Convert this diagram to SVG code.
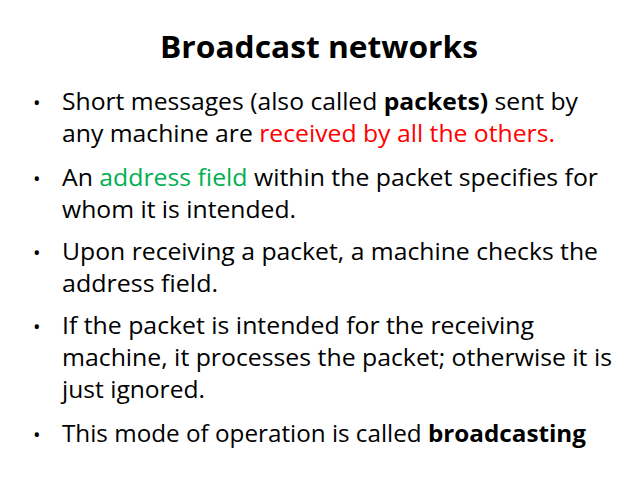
<svg xmlns="http://www.w3.org/2000/svg" width="638" height="478" viewBox="0 0 638 478">
<style>
text{font-family:"Open Sans","Liberation Sans",sans-serif;fill:#000}
.t{font-size:23px}
.b{font-weight:bold}
.r{fill:#ff0000}
.g{fill:#00b050}
.d{font-size:20px}
</style>
<rect width="638" height="478" fill="#fff"/>
<g id="title"><text x="319" y="58" text-anchor="middle" font-size="30" class="b" textLength="318" lengthAdjust="spacingAndGlyphs">Broadcast networks</text></g>
<g id="bullets">
<text class="d" x="33" y="110">•</text>
<text class="d" x="33" y="186">•</text>
<text class="d" x="33" y="260">•</text>
<text class="d" x="33" y="334">•</text>
<text class="d" x="33" y="442">•</text>
<text class="t" x="62" y="110" textLength="516" lengthAdjust="spacingAndGlyphs">Short messages (also called <tspan class="b">packets)</tspan> sent by</text>
<text class="t" x="62" y="142" textLength="493" lengthAdjust="spacingAndGlyphs">any machine are <tspan class="r">received by all the others.</tspan></text>
<text class="t" x="62" y="186" textLength="536" lengthAdjust="spacingAndGlyphs">An <tspan class="g">address field</tspan> within the packet specifies for</text>
<text class="t" x="62" y="218" textLength="234" lengthAdjust="spacingAndGlyphs">whom it is intended.</text>
<text class="t" x="62" y="260" textLength="536" lengthAdjust="spacingAndGlyphs">Upon receiving a packet, a machine checks the</text>
<text class="t" x="62" y="292" textLength="156" lengthAdjust="spacingAndGlyphs">address field.</text>
<text class="t" x="62" y="334" textLength="472" lengthAdjust="spacingAndGlyphs">If the packet is intended for the receiving</text>
<text class="t" x="62" y="366" textLength="550" lengthAdjust="spacingAndGlyphs">machine, it processes the packet; otherwise it is</text>
<text class="t" x="62" y="398" textLength="143" lengthAdjust="spacingAndGlyphs">just ignored.</text>
<text class="t" x="62" y="442" textLength="524" lengthAdjust="spacingAndGlyphs">This mode of operation is called <tspan class="b">broadcasting</tspan></text>
</g>
</svg>
